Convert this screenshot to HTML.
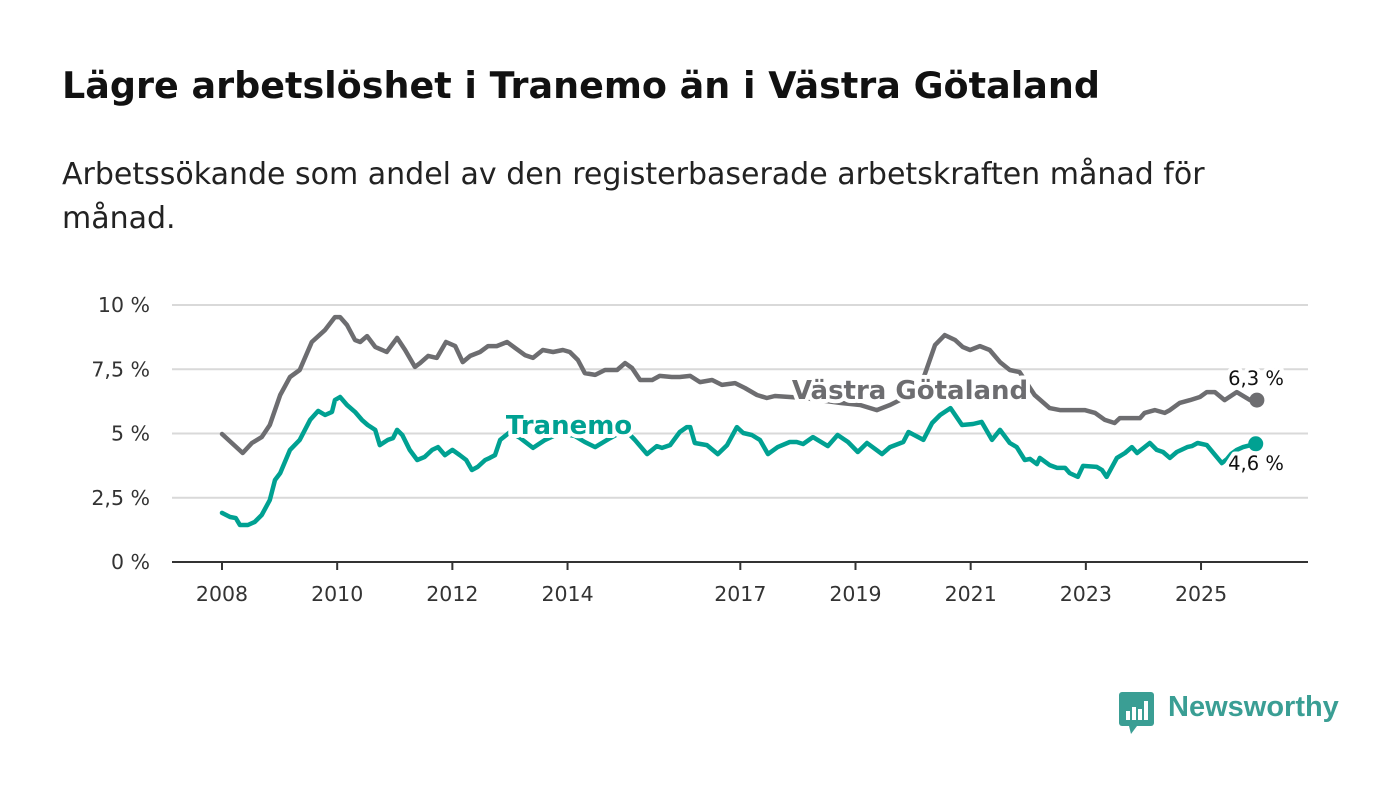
<!DOCTYPE html>
<html><head><meta charset="utf-8"><style>
body{margin:0;width:1400px;height:794px;background:#fff;font-family:"DejaVu Sans","Liberation Sans",sans-serif;overflow:hidden;position:relative}
h1{position:absolute;left:62px;top:64px;margin:0;font-size:36.5px;font-weight:bold;color:#111;white-space:nowrap}
p.sub{position:absolute;left:62px;top:153px;margin:0;font-size:30px;line-height:44px;color:#222;white-space:nowrap}
svg{position:absolute;left:0;top:0}
</style></head><body>
<h1>Lägre arbetslöshet i Tranemo än i Västra Götaland</h1>
<p class="sub">Arbetssökande som andel av den registerbaserade arbetskraften månad för<br>månad.</p>
<svg id="chart" width="1400" height="794"></svg>
<div style="position:absolute;left:1119px;top:692px;">
<svg width="36" height="44" style="position:static"><rect x="0" y="0" width="35" height="34" rx="3" fill="#3a9e94"/><polygon points="10,34 18,34 12,42" fill="#3a9e94"/><rect x="7" y="19" width="4" height="9" fill="#fff"/><rect x="13" y="15" width="4" height="13" fill="#fff"/><rect x="19" y="17" width="4" height="11" fill="#fff"/><rect x="25" y="9" width="4" height="19" fill="#fff"/></svg>
<span style="position:absolute;left:49px;top:-1px;font-family:'Liberation Sans',sans-serif;font-size:29px;font-weight:bold;color:#3a9e94;white-space:nowrap">Newsworthy</span>
</div>
<script>
const yTicks=[0,2.5,5,7.5,10];
const yTickLabels=["0 %","2,5 %","5 %","7,5 %","10 %"];
const xTicks=[2008,2010,2012,2014,2017,2019,2021,2023,2025];
const vgDates=[2008.00,2008.17,2008.36,2008.52,2008.69,2008.83,2009.01,2009.18,2009.35,2009.56,2009.79,2009.96,2010.05,2010.17,2010.31,2010.40,2010.52,2010.66,2010.86,2011.04,2011.18,2011.35,2011.44,2011.58,2011.73,2011.89,2012.05,2012.18,2012.31,2012.48,2012.62,2012.77,2012.95,2013.09,2013.26,2013.40,2013.57,2013.75,2013.92,2014.04,2014.18,2014.30,2014.48,2014.65,2014.86,2015.00,2015.12,2015.26,2015.47,2015.60,2015.81,2015.95,2016.13,2016.30,2016.51,2016.68,2016.91,2017.08,2017.29,2017.46,2017.60,2017.86,2018.12,2018.38,2018.73,2019.08,2019.37,2019.60,2019.77,2020.03,2020.20,2020.38,2020.55,2020.73,2020.86,2020.99,2021.16,2021.33,2021.51,2021.68,2021.85,2022.11,2022.37,2022.55,2022.81,2022.98,2023.16,2023.33,2023.50,2023.59,2023.94,2024.02,2024.20,2024.37,2024.46,2024.63,2024.81,2024.98,2025.10,2025.24,2025.41,2025.62,2025.85,2025.97];
const vgValues=[4.98,4.63,4.24,4.63,4.86,5.33,6.50,7.20,7.47,8.56,9.03,9.53,9.53,9.22,8.64,8.56,8.79,8.37,8.17,8.72,8.25,7.59,7.74,8.02,7.94,8.56,8.40,7.78,8.02,8.17,8.40,8.40,8.56,8.33,8.05,7.94,8.25,8.17,8.25,8.17,7.86,7.35,7.28,7.47,7.47,7.74,7.55,7.08,7.08,7.24,7.20,7.20,7.24,7.00,7.08,6.89,6.96,6.77,6.50,6.38,6.46,6.42,6.38,6.30,6.19,6.11,5.91,6.11,6.30,6.61,7.28,8.44,8.83,8.64,8.37,8.25,8.40,8.25,7.78,7.47,7.39,6.50,5.99,5.91,5.91,5.91,5.80,5.53,5.41,5.60,5.60,5.80,5.91,5.80,5.91,6.19,6.30,6.42,6.61,6.61,6.30,6.61,6.30,6.30];
const trDates=[2008.00,2008.14,2008.24,2008.31,2008.45,2008.57,2008.69,2008.83,2008.92,2009.01,2009.18,2009.35,2009.53,2009.67,2009.79,2009.91,2009.96,2010.05,2010.17,2010.31,2010.43,2010.53,2010.66,2010.74,2010.88,2010.97,2011.04,2011.13,2011.26,2011.39,2011.52,2011.65,2011.75,2011.87,2012.00,2012.13,2012.24,2012.34,2012.44,2012.57,2012.65,2012.74,2012.83,2013.00,2013.18,2013.40,2013.61,2013.87,2014.13,2014.30,2014.48,2014.74,2015.00,2015.17,2015.38,2015.55,2015.64,2015.78,2015.95,2016.07,2016.13,2016.21,2016.42,2016.61,2016.77,2016.94,2017.05,2017.20,2017.34,2017.48,2017.65,2017.86,2017.98,2018.09,2018.26,2018.52,2018.69,2018.87,2019.04,2019.20,2019.46,2019.60,2019.83,2019.92,2020.18,2020.33,2020.47,2020.65,2020.85,2021.04,2021.19,2021.37,2021.51,2021.68,2021.80,2021.94,2022.03,2022.15,2022.20,2022.37,2022.50,2022.64,2022.72,2022.86,2022.95,2023.19,2023.28,2023.36,2023.54,2023.68,2023.80,2023.89,2024.11,2024.23,2024.34,2024.46,2024.58,2024.76,2024.84,2024.94,2025.10,2025.36,2025.45,2025.52,2025.62,2025.73,2025.95];
const trValues=[1.91,1.75,1.71,1.44,1.44,1.56,1.83,2.41,3.19,3.46,4.36,4.75,5.53,5.88,5.72,5.84,6.30,6.42,6.11,5.84,5.53,5.33,5.14,4.55,4.75,4.82,5.14,4.94,4.36,3.97,4.09,4.36,4.47,4.16,4.36,4.16,3.97,3.58,3.70,3.97,4.05,4.16,4.75,5.06,4.82,4.44,4.75,5.02,4.90,4.67,4.47,4.82,5.14,4.75,4.20,4.51,4.44,4.55,5.06,5.25,5.25,4.63,4.55,4.20,4.55,5.25,5.02,4.94,4.75,4.20,4.47,4.67,4.67,4.59,4.86,4.51,4.94,4.67,4.28,4.63,4.20,4.47,4.67,5.06,4.75,5.41,5.72,5.99,5.33,5.37,5.45,4.75,5.14,4.63,4.47,3.97,4.01,3.81,4.05,3.77,3.66,3.66,3.46,3.31,3.74,3.70,3.58,3.31,4.05,4.24,4.47,4.24,4.63,4.36,4.28,4.05,4.28,4.47,4.51,4.63,4.55,3.85,4.0,4.2,4.36,4.47,4.6];
const NS="http://www.w3.org/2000/svg";
const svg=document.getElementById('chart');
const X=t=>222+(t-2008)*57.59;
const Y=v=>562-v*25.7;
function mk(tag,attrs,txt){const e=document.createElementNS(NS,tag);for(const k in attrs)e.setAttribute(k,attrs[k]);if(txt!==undefined)e.textContent=txt;svg.appendChild(e);return e;}
yTicks.forEach((v,i)=>{
  if(v>0){const g=mk('line',{x1:172,x2:1308,y1:Y(v),y2:Y(v),stroke:'#d9d9d9','stroke-width':2});
  
  }
  const t=mk('text',{x:150,y:Y(v)+7,'text-anchor':'end','font-size':20.5,fill:'#333'},yTickLabels[i]);
  
  
});
const ax=mk('line',{x1:172,x2:1308,y1:562,y2:562,stroke:'#333','stroke-width':2});


xTicks.forEach(yr=>{
  const tk=mk('line',{x1:X(yr),x2:X(yr),y1:562,y2:570,stroke:'#333','stroke-width':2});
  
  
  const t=mk('text',{x:X(yr),y:601,'text-anchor':'middle','font-size':20.5,fill:'#333'},String(yr));
  
  
});
function line(d,v,c,name){
  const p=mk('path',{d:d.map((t,i)=>(i?'L':'M')+X(t).toFixed(1)+','+Y(v[i]).toFixed(1)).join(''),fill:'none',stroke:c,'stroke-width':4.5,'stroke-linejoin':'round','stroke-linecap':'round'});
  
  
  const n=d.length-1;
  const c2=mk('circle',{cx:X(d[n]),cy:Y(v[n]),r:7.5,fill:c});
  
  
}
line(vgDates,vgValues,'#6d6d70','vastra-gotaland-line');
line(trDates,trValues,'#00a192','tranemo-line');
function label(x,y,txt,attrs,name){
  const a=Object.assign({x:x,y:y,stroke:'#fff','stroke-width':8,'paint-order':'stroke','stroke-linejoin':'round'},attrs);
  const t=mk('text',a,txt);
  
  
}
label(910,399,'Västra Götaland',{'text-anchor':'middle','font-size':26,'font-weight':'bold',fill:'#6d6d70'},'vastra-gotaland-label');
label(569,434,'Tranemo',{'text-anchor':'middle','font-size':26,'font-weight':'bold',fill:'#00a192'},'tranemo-label');
label(1256,385,'6,3 %',{'text-anchor':'middle','font-size':19.5,fill:'#111'},'vastra-gotaland-end-value');
label(1256,470,'4,6 %',{'text-anchor':'middle','font-size':19.5,fill:'#111'},'tranemo-end-value');
</script>
</body></html>
